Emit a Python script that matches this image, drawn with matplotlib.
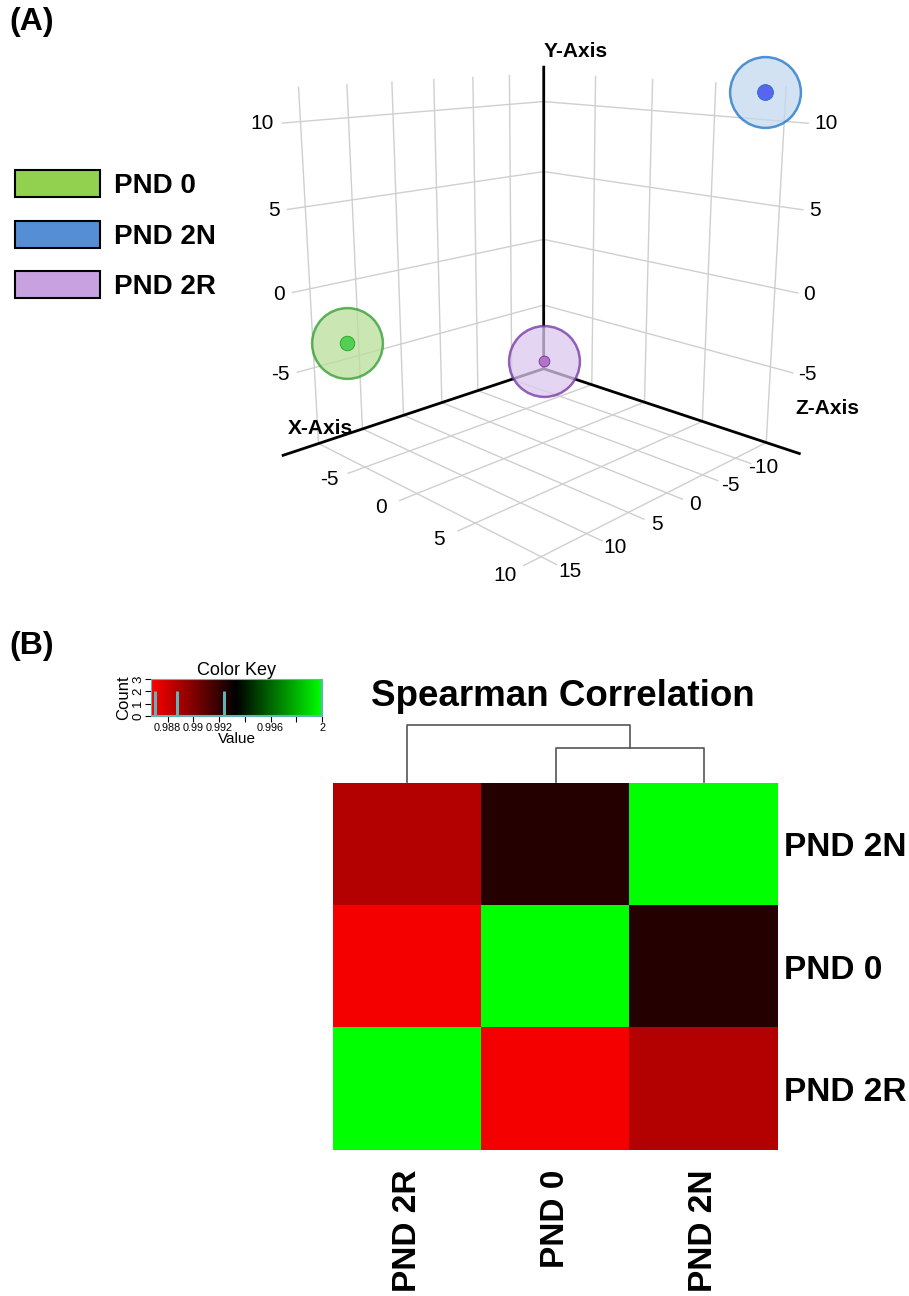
import numpy as np
import matplotlib
matplotlib.use("Agg")
import matplotlib.pyplot as plt
from matplotlib.patches import Patch
from matplotlib.colors import LinearSegmentedColormap

plt.rcParams['font.family'] = ['Liberation Sans', 'DejaVu Sans']
plt.rcParams['axes.unicode_minus'] = False

# ---------------- data ----------------
groups = ["PND 0", "PND 2N", "PND 2R"]
legend_face = ["#92d050", "#558ed5", "#c8a2e0"]
pca_x = [11.3, -15.0, -14.8]    # X-Axis
pca_y = [-4.0, 11.6, -9.3]      # Y-Axis (vertical)
pca_z = [-10.0, 8.6, -9.8]      # Z-Axis
ring_edge = ["#2e9a2e", "#1a72c6", "#7030a0"]
ring_fill = ["#b9e09a", "#c4d9ef", "#dcc8ef"]
dot_color = ["#52d052", "#5a64f0", "#b374c8"]
dot_size = [110, 130, 60]

x_ticks = [-10, -5, 0, 5, 10, 15]
z_ticks = [-5, 0, 5, 10]
y_ticks = [-5, 0, 5, 10]

row_labels = ["PND 2N", "PND 0", "PND 2R"]
col_labels = ["PND 2R", "PND 0", "PND 2N"]
corr = np.array([
    [0.9887, 0.9924, 1.0000],
    [0.9870, 1.0000, 0.9924],
    [1.0000, 0.9870, 0.9887],
])
# dendrogram of columns: (left leaf idx, right leaf idx, height)
dend_merges = [(1, 2, 0.0076), ("sub", 0, 0.0130)]
key_ticks = [0.988, 0.990, 0.992, 0.994, 0.996, 0.998, 1.000]
key_ticklabels = ["0.988", "0.99", "0.992", "", "0.996", "", "2"]
vmin, vmax = 0.9867, 1.0

# ---------------- figure ----------------
W, H = 909, 1296
fig = plt.figure(figsize=(W / 100, H / 100), dpi=100)

def fx(px):
    return px / W

def fy(py):
    return 1 - py / H

fig.text(fx(9), fy(22), "(A)", fontsize=23, fontweight='bold', va='center')
fig.text(fx(9), fy(646), "(B)", fontsize=23, fontweight='bold', va='center')

# legend
handles = [Patch(facecolor=c, edgecolor='black', linewidth=1.5) for c in legend_face]
fig.legend(handles, groups, loc='upper left', bbox_to_anchor=(fx(15), fy(170)),
           frameon=False, handlelength=3.05, handleheight=1.12,
           labelspacing=0.78, handletextpad=0.5, borderaxespad=0, borderpad=0,
           prop={'weight': 'bold', 'size': 20})

# ---------------- 3D plot ----------------
side = 640
cx, cy = 534, 281
ax = fig.add_axes([fx(cx - side / 2), fy(cy + side / 2), fx(side), side / H],
                  projection='3d', proj_type='persp', focal_length=0.3)
ax.view_init(elev=14, azim=45)
ax.set_box_aspect((0.92, 0.91, 1.017), zoom=0.9006)
xlim = (-15, 15)
ylim = (-10, 10)
zlim = (-10, 12)
ax.set_xlim(*xlim)
ax.set_ylim(*ylim)
ax.set_zlim(*zlim)
ax.set_xticks(x_ticks)
ax.set_yticks(z_ticks)
ax.set_zticks(y_ticks)
ax.set_xticklabels([])
ax.set_yticklabels([])
ax.set_zticklabels([])
for a in (ax.xaxis, ax.yaxis, ax.zaxis):
    a.set_pane_color((1, 1, 1, 0))
    a.pane.set_edgecolor((1, 1, 1, 0))
    a.line.set_color((1, 1, 1, 0))
    a._axinfo['grid'].update(color='#cfcfcf', linewidth=1.0)
    a._axinfo['tick'].update(inward_factor=0.0, outward_factor=0.0)
ax.tick_params(axis='both', colors=(1, 1, 1, 0))
ax.grid(True)

M = ax.get_proj()

def label3d(x, y, z, s, **kw):
    v = M @ np.array([x, y, z, 1.0])
    ax.text2D(v[0] / v[3], v[1] / v[3], s, transform=ax.transData, **kw)

gcol = '#cfcfcf'
tfs = 15
# X ticks: along the front-right floor edge, extended in +Z
for t in x_ticks:
    ax.plot([t, t], [ylim[1], ylim[1] + 1.1], [zlim[0], zlim[0]], color=gcol, lw=1.0)
    label3d(t, ylim[1] + 2.0, zlim[0], str(t), fontsize=tfs, ha='center', va='center')
# Z ticks: along the front-left floor edge, extended in +X
for t in z_ticks:
    ax.plot([xlim[1], xlim[1] + 1.8], [t, t], [zlim[0], zlim[0]], color=gcol, lw=1.0)
    label3d(xlim[1] + 3.7, t, zlim[0], str(t), fontsize=tfs, ha='center', va='center')
# Y ticks on both walls
for t in y_ticks:
    ax.plot([xlim[1], xlim[1] + 1.8], [ylim[0], ylim[0]], [t, t], color=gcol, lw=1.0)
    label3d(xlim[1] + 2.6, ylim[0], t, str(t), fontsize=tfs, ha='right', va='center')
    ax.plot([xlim[0], xlim[0]], [ylim[1], ylim[1] + 1.6], [t, t], color=gcol, lw=1.0)
    label3d(xlim[0], ylim[1] + 2.0, t, str(t), fontsize=tfs, ha='left', va='center')

# black axes at back corner (extending a little past the box)
x_end, z_end, y_end = 18.8, 12.4, 12.4
ax.plot([xlim[0], x_end], [ylim[0], ylim[0]], [zlim[0], zlim[0]], color='black', lw=2)
ax.plot([xlim[0], xlim[0]], [ylim[0], z_end], [zlim[0], zlim[0]], color='black', lw=2)
ax.plot([xlim[0], xlim[0]], [ylim[0], ylim[0]], [zlim[0], y_end], color='black', lw=2)
label3d(x_end - 0.6, ylim[0], zlim[0] + 1.0, "X-Axis", fontsize=15, fontweight='bold',
        ha='left', va='bottom')
label3d(xlim[0], ylim[0], y_end + 0.4, "Y-Axis", fontsize=15, fontweight='bold',
        ha='left', va='bottom')
label3d(xlim[0], z_end - 0.4, zlim[0] + 2.2, "Z-Axis", fontsize=15, fontweight='bold',
        ha='left', va='bottom')

for i in range(3):
    s1 = ax.scatter([pca_x[i]], [pca_z[i]], [pca_y[i]], s=2600, facecolor=ring_fill[i],
                    edgecolor=ring_edge[i], linewidth=1.8, alpha=0.75, depthshade=False)
    s2 = ax.scatter([pca_x[i]], [pca_z[i]], [pca_y[i]], s=dot_size[i], color=dot_color[i],
                    edgecolor=ring_edge[i], linewidth=0.6, depthshade=False)
    s1.set_clip_on(False)
    s2.set_clip_on(False)

# ---------------- heatmap ----------------
cmap = LinearSegmentedColormap.from_list("rg", ["#ff0000", "#000000", "#00ff00"])
hx0, hx1, hy0, hy1 = 333, 778, 783, 1150
hax = fig.add_axes([fx(hx0), fy(hy1), fx(hx1 - hx0), (hy1 - hy0) / H])
hax.imshow(corr, cmap=cmap, vmin=vmin, vmax=vmax, aspect='auto', interpolation='nearest')
hax.set_xticks(range(3))
hax.set_xticklabels(col_labels, rotation=90, fontsize=24, fontweight='bold')
hax.set_yticks(range(3))
hax.set_yticklabels(row_labels, fontsize=24, fontweight='bold')
hax.yaxis.tick_right()
hax.tick_params(length=0, pad=4)
hax.tick_params(axis='x', pad=14)
for s in hax.spines.values():
    s.set_visible(False)

# dendrogram
dax = fig.add_axes([fx(hx0), fy(hy0), fx(hx1 - hx0), 60 / H])
dax.set_xlim(-0.5, 2.5)
h_sub = dend_merges[0][2]
h_top = dend_merges[1][2]
l, r = dend_merges[0][0], dend_merges[0][1]
dax.plot([l, l, r, r], [0, h_sub, h_sub, 0], color='#555555', lw=1.2)
mid = (l + r) / 2
lf = dend_merges[1][1]
dax.plot([lf, lf, mid, mid], [0, h_top, h_top, h_sub], color='#555555', lw=1.2)
dax.axis('off')
dax.set_ylim(-0.0003, h_top + 0.0004)

fig.text(fx(563), fy(697), "Spearman Correlation", fontsize=26.5, fontweight='bold',
         ha='center', va='center')

# color key
kax = fig.add_axes([fx(151), fy(716), fx(171), 37 / H])
grad = np.linspace(vmin, vmax, 256).reshape(1, -1)
kax.imshow(grad, cmap=cmap, vmin=vmin, vmax=vmax, aspect='auto',
           extent=[vmin, vmax, 0, 3], origin='lower')
vals, counts = np.unique(corr.round(4), return_counts=True)
kax.vlines(vals, 0, counts, color='#5fb5b5', lw=2.2)
kax.axhline(0.03, color='#5fb5b5', lw=1.5)
kax.set_xlim(vmin, vmax)
kax.set_ylim(0, 3)
kax.set_xticks(key_ticks)
kax.set_xticklabels(key_ticklabels, fontsize=7.8)
kax.set_yticks([0, 1, 2, 3])
kax.set_yticklabels(["0", "1", "2", "3"], fontsize=9.5, rotation=90, va='center')
kax.tick_params(length=4, width=0.8, pad=1)
kax.set_xlabel("Value", fontsize=11, labelpad=-1)
kax.set_ylabel("Count", fontsize=12, labelpad=1)
kax.set_title("Color Key", fontsize=13, pad=1)
for s in kax.spines.values():
    s.set_color('#5fb5b5')

fig.savefig("out.png", dpi=100)
